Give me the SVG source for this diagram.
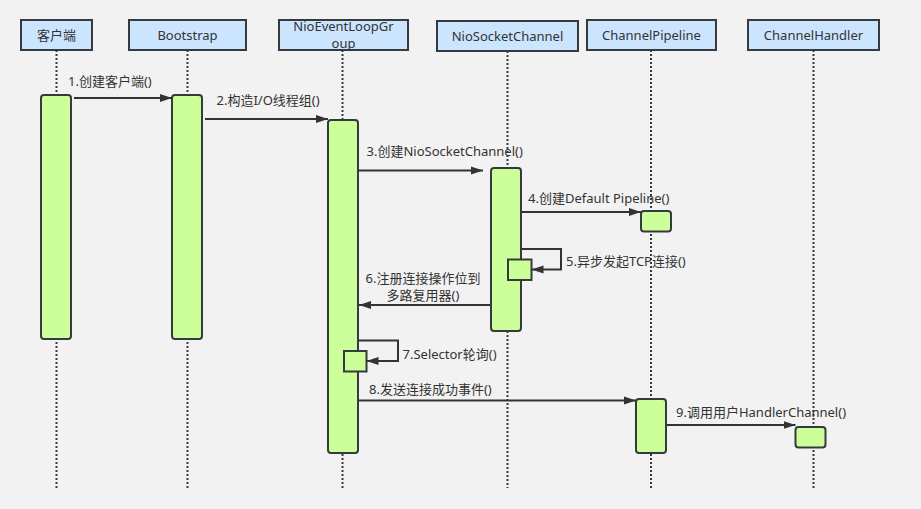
<svg xmlns="http://www.w3.org/2000/svg" width="921" height="509" viewBox="0 0 921 509">
<style>
.hdr{fill:#cce5ff;stroke:#36393d;stroke-width:2}
.life{stroke:#36393d;stroke-width:2;stroke-dasharray:2 2;fill:none}
.act{fill:#ccff99;stroke:#36393d;stroke-width:2}
.t{font-family:"Noto Sans","Noto Sans CJK SC",sans-serif;font-size:13px;fill:#333333}
.c{text-anchor:middle}
.msg{stroke:#333333;stroke-width:2;fill:none;marker-end:url(#ah)}
</style>
<defs>
<marker id="ah" markerUnits="userSpaceOnUse" markerWidth="13" markerHeight="10" refX="12" refY="5" orient="auto">
<path d="M0,1 L12,5 L0,9 Z" fill="#333333"/>
</marker>
</defs>
<rect width="921" height="509" fill="#f2f2f2"/>

<g id="client">
<line class="life" x1="56.5" y1="50" x2="56.5" y2="488"/>
<rect class="hdr" x="21" y="20" width="71" height="30"/>
<text class="t c" x="56.5" y="39.5">客户端</text>
<rect class="act" x="41" y="95" width="30" height="244" rx="3"/>
</g>

<g id="bootstrap">
<line class="life" x1="187.5" y1="50" x2="187.5" y2="488"/>
<rect class="hdr" x="129" y="20" width="117" height="30"/>
<text class="t c" x="187.5" y="39.5">Bootstrap</text>
<rect class="act" x="172" y="95" width="30" height="244" rx="3"/>
</g>

<g id="nioeventloopgroup">
<line class="life" x1="342.5" y1="50" x2="342.5" y2="488"/>
<rect class="hdr" x="279" y="20" width="129" height="30"/>
<text class="t c" x="343.5" y="31">NioEventLoopGr</text>
<text class="t c" x="343.5" y="47.5">oup</text>
<rect class="act" x="328" y="120" width="30" height="333" rx="3"/>
<rect class="act" x="344" y="351" width="22.5" height="20.5"/>
</g>

<g id="niosocketchannel">
<line class="life" x1="507.5" y1="51" x2="507.5" y2="488"/>
<rect class="hdr" x="437" y="21" width="141" height="30"/>
<text class="t c" x="507.5" y="40.5">NioSocketChannel</text>
<rect class="act" x="491" y="168" width="30" height="163" rx="3"/>
<rect class="act" x="508" y="259.5" width="23.5" height="20.5"/>
</g>

<g id="channelpipeline">
<line class="life" x1="651" y1="50" x2="651" y2="488"/>
<rect class="hdr" x="587" y="20" width="129" height="30"/>
<text class="t c" x="651.5" y="39.5">ChannelPipeline</text>
<rect class="act" x="641" y="211" width="30" height="20.5" rx="3"/>
<rect class="act" x="636" y="399" width="30" height="54" rx="3"/>
</g>

<g id="channelhandler">
<line class="life" x1="813.5" y1="50" x2="813.5" y2="488"/>
<rect class="hdr" x="748" y="20" width="131" height="30"/>
<text class="t c" x="813.5" y="39.5">ChannelHandler</text>
<rect class="act" x="795.5" y="427" width="30" height="20.5" rx="3"/>
</g>

<g id="connectors">
<line class="msg" x1="74" y1="98" x2="172" y2="98"/>
<line class="msg" x1="205" y1="119" x2="328" y2="119"/>
<line class="msg" x1="358" y1="170.5" x2="483" y2="170.5"/>
<line class="msg" x1="521" y1="212" x2="641" y2="212"/>
<polyline class="msg" points="521,249 561,249 561,269.5 531.5,269.5"/>
<line class="msg" x1="491" y1="305" x2="359" y2="305"/>
<polyline class="msg" points="358,340.5 398,340.5 398,361 366.5,361"/>
<line class="msg" x1="358" y1="400.5" x2="636" y2="400.5"/>
<line class="msg" x1="667" y1="425" x2="795.5" y2="425"/>
<text class="t" x="68" y="85.5">1.创建客户端()</text>
<text class="t" x="216.5" y="104.5">2.构造I/O线程组()</text>
<text class="t" x="366.5" y="156">3.创建NioSocketChannel()</text>
<text class="t" x="528" y="203">4.创建Default Pipeline()</text>
<text class="t" x="566" y="266">5.异步发起TCP连接()</text>
<text class="t c" x="423" y="283">6.注册连接操作位到</text>
<text class="t c" x="423" y="299.5">多路复用器()</text>
<text class="t" x="402.5" y="358.5">7.Selector轮询()</text>
<text class="t" x="369" y="393.5">8.发送连接成功事件()</text>
<text class="t" x="676" y="417">9.调用用户HandlerChannel()</text>
</g>
</svg>
